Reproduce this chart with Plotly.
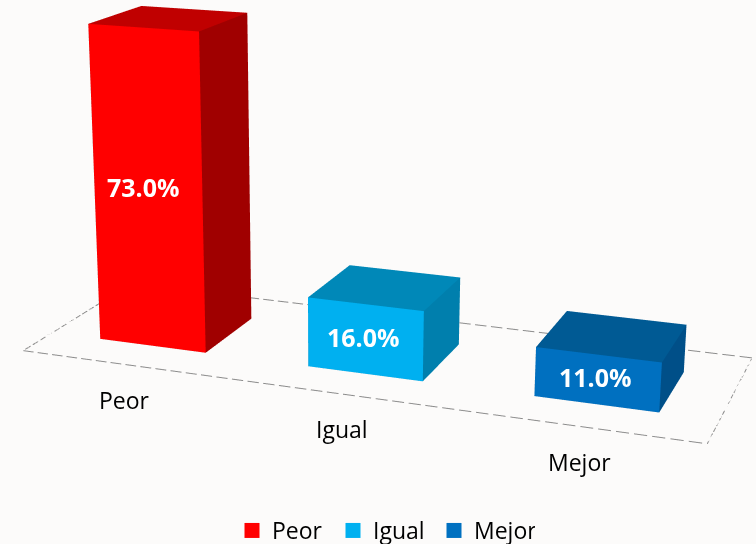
import plotly.graph_objects as go

categories = ["Peor", "Igual", "Mejor"]
values = [73.0, 16.0, 11.0]
front_colors = ["#FF0000", "#00B0F0", "#0070C0"]
top_colors = ["#C00000", "#0088B8", "#005A94"]
side_colors = ["#A00000", "#007FAD", "#004F88"]
label_dx = [-4, -2, -2]
label_dy = [4, 2, 3]

BG = "#FCFBFA"
FONT = "Open Sans"
# The canvas is larger than the window so the camera's optical centre sits where the
# reference has it; the page is offset so the 756x544 window shows the matching part.
FIG_W, FIG_H = 857, 1591
LEFT, TOP = -96, -518
ZMAX = 80.0
X0, X1 = -0.5, 2.5
BAR_W, Y_FRONT, Y_BACK = 0.5171, 0.2491, 0.7273


def box(i, h, fc, tc, sc):
    xs = [i - BAR_W / 2, i + BAR_W / 2, i + BAR_W / 2, i - BAR_W / 2] * 2
    ys = [Y_FRONT, Y_FRONT, Y_BACK, Y_BACK] * 2
    zs = [0, 0, 0, 0, h, h, h, h]
    tri = [(0, 1, 5), (0, 5, 4), (1, 2, 6), (1, 6, 5), (4, 5, 6), (4, 6, 7),
           (0, 4, 7), (0, 7, 3), (3, 7, 6), (3, 6, 2), (0, 2, 1), (0, 3, 2)]
    cols = [fc, fc, sc, sc, tc, tc, sc, sc, sc, sc, sc, sc]
    return go.Mesh3d(x=xs, y=ys, z=zs,
                     i=[t[0] for t in tri], j=[t[1] for t in tri], k=[t[2] for t in tri],
                     facecolor=cols, flatshading=True,
                     lighting=dict(ambient=1, diffuse=0, specular=0, fresnel=0),
                     hoverinfo="skip", showlegend=False)


def dashed_edge(a, b, n, on=0.72):
    """Split the floor edge a->b into n dashes, separated by gaps."""
    xs, ys = [], []
    for k in range(n):
        t0, t1 = k / n, (k + on) / n
        xs += [a[0] + (b[0] - a[0]) * t0, a[0] + (b[0] - a[0]) * t1, None]
        ys += [a[1] + (b[1] - a[1]) * t0, a[1] + (b[1] - a[1]) * t1, None]
    return xs, ys


corners = [(X0, 0), (X1, 0), (X1, 1), (X0, 1)]
edge_dashes = [42, 16, 40, 16]
floor_x, floor_y = [], []
for n_idx, n in enumerate(edge_dashes):
    ex, ey = dashed_edge(corners[n_idx], corners[(n_idx + 1) % 4], n)
    floor_x += ex
    floor_y += ey

fig = go.Figure()
fig.add_trace(go.Scatter3d(x=floor_x, y=floor_y, z=[0 if v is not None else None for v in floor_x],
                           mode="lines", connectgaps=False,
                           line=dict(color="#8C8C8C", width=2),
                           showlegend=False, hoverinfo="skip"))
for i, v in enumerate(values):
    fig.add_trace(box(i, v, front_colors[i], top_colors[i], side_colors[i]))
for c, col in zip(categories, front_colors):
    fig.add_trace(go.Scatter(x=[None], y=[None], mode="markers", name=c,
                             marker=dict(symbol="square", size=15, color=col)))

ann = []
for i, (c, v) in enumerate(zip(categories, values)):
    ann.append(dict(x=i, y=Y_FRONT, z=v / 2, text=f"<b>{v:.1f}%</b>", showarrow=False,
                    xshift=label_dx[i], yshift=label_dy[i],
                    font=dict(family=FONT, size=25, color="white")))
    ann.append(dict(x=i, y=0, z=0, text=c, showarrow=False, xshift=-1, yshift=-35,
                    font=dict(family=FONT, size=23, color="black")))

ax = dict(visible=False, showspikes=False)
fig.update_layout(
    width=FIG_W, height=FIG_H, margin=dict(l=0, r=0, t=0, b=0),
    paper_bgcolor=BG, plot_bgcolor=BG,
    xaxis=dict(visible=False), yaxis=dict(visible=False),
    legend=dict(orientation="h", x=(232 - LEFT) / FIG_W, y=1 - (552 - TOP) / FIG_H,
                xanchor="left", yanchor="bottom", entrywidth=56, entrywidthmode="pixels",
                font=dict(family=FONT, size=23, color="black"), bgcolor="rgba(0,0,0,0)"),
    scene=dict(
        domain=dict(x=[0, 1], y=[0, 1]), aspectmode="manual",
        aspectratio=dict(x=1, y=0.3508, z=0.5169),
        xaxis=dict(ax, range=[X0, X1]), yaxis=dict(ax, range=[0, 1]), zaxis=dict(ax, range=[0, ZMAX]),
        camera=dict(eye=dict(x=0.8734, y=-2.4865, z=0.6773),
                    center=dict(x=0.0002, y=-0.2162, z=-0.0788),
                    up=dict(x=0.0046, y=0, z=1), projection=dict(type="perspective")),
        annotations=ann, bgcolor=BG))
post = ("document.documentElement.style.overflow='hidden';"
        "document.body.style.overflow='hidden';"
        f"document.body.style.background='{BG}';"
        f"document.body.style.margin='{TOP}px 0 0 {LEFT}px';")
fig.write_html("out.html", post_script=post)
